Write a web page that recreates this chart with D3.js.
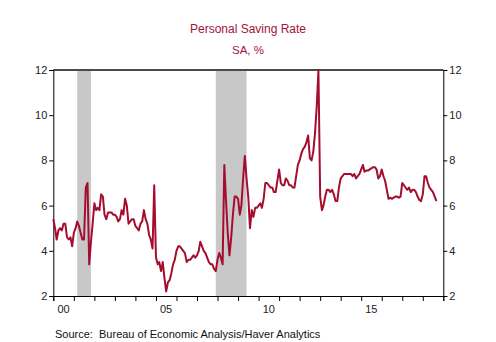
<!DOCTYPE html>
<html>
<head>
<meta charset="utf-8">
<script src="https://cdn.jsdelivr.net/npm/d3@7"></script>
<style>
  body { margin: 0; background: #fff; }
  svg { font-family: "Liberation Sans", Arial, sans-serif; }
  .axis path, .axis line { stroke: #000; }
  .axis text { font-size: 11px; fill: #222; }
</style>
</head>
<body>
<div class="chart"></div>
<script>
// monthly personal saving rate, Jan 2000 onward
var startYear = 2000;
var savingRate = [
  5.4, 5.0, 4.5, 4.9, 5.0, 4.9, 5.2, 5.2, 4.6, 4.5, 4.6, 4.2,   // 2000
  4.8, 5.0, 5.3, 5.1, 4.8, 4.5, 4.5, 6.8, 7.0, 3.4, 4.4, 5.2,   // 2001
  6.1, 5.8, 5.9, 5.8, 6.5, 6.4, 5.6, 5.4, 5.7, 5.7, 5.7, 5.6,   // 2002
  5.6, 5.5, 5.3, 5.4, 5.8, 5.6, 6.3, 6.0, 5.2, 5.3, 5.4, 5.4,   // 2003
  5.1, 5.0, 4.9, 5.2, 5.3, 5.8, 5.4, 5.2, 4.7, 4.5, 4.1, 6.9,   // 2004
  3.7, 3.4, 3.5, 3.1, 3.5, 2.8, 2.2, 2.6, 2.7, 3.0, 3.4, 3.6,   // 2005
  4.0, 4.2, 4.2, 4.1, 4.0, 3.9, 3.5, 3.6, 3.6, 3.7, 3.8, 3.7,   // 2006
  3.8, 4.0, 4.4, 4.2, 4.0, 3.9, 3.7, 3.5, 3.4, 3.4, 3.2, 3.1,   // 2007
  3.6, 3.9, 3.7, 3.4, 7.8, 6.2, 4.8, 3.8, 4.6, 5.6, 6.4, 6.4,   // 2008
  6.3, 5.6, 6.0, 7.2, 8.2, 7.2, 6.4, 5.0, 5.8, 5.5, 5.9, 5.9,   // 2009
  6.0, 6.1, 5.9, 6.3, 7.0, 7.0, 6.9, 6.8, 6.8, 6.6, 6.6, 7.1,   // 2010
  7.6, 7.0, 6.9, 6.9, 7.2, 7.1, 6.9, 6.9, 6.8, 6.8, 7.3, 7.8,   // 2011
  8.0, 8.3, 8.5, 8.6, 8.8, 9.1, 8.1, 8.0, 8.4, 9.2, 10.4, 12.0, // 2012
  6.4, 5.8, 6.0, 6.4, 6.7, 6.7, 6.6, 6.7, 6.5, 6.2, 6.2, 6.8,   // 2013
  7.2, 7.3, 7.4, 7.4, 7.4, 7.4, 7.4, 7.3, 7.4, 7.2, 7.3, 7.4,   // 2014
  7.6, 7.8, 7.5, 7.55, 7.55, 7.6, 7.65, 7.7, 7.7, 7.6, 7.2, 7.3, // 2015
  7.6, 7.3, 7.1, 6.7, 6.3, 6.35, 6.3, 6.35, 6.4, 6.4, 6.35, 6.4, // 2016
  7.0, 6.9, 6.8, 6.7, 6.8, 6.6, 6.7, 6.7, 6.6, 6.4, 6.25, 6.2,  // 2017
  6.5, 7.3, 7.3, 7.0, 6.8, 6.7, 6.6, 6.4, 6.2                   // 2018
];

// recession periods [start, end] as "year-month"
var recessions = [["2001-03", "2001-11"], ["2007-12", "2009-06"]];

var yTicks = [2, 4, 6, 8, 10, 12];
var xTickLabels = ["00", "05", "10", "15"];
var xLabelYears = [2000, 2005, 2010, 2015];

var svgWidth = 496;
var svgHeight = 342;
var margin = { top: 70, right: 52.7, bottom: 46, left: 53.3 };
var width = svgWidth - margin.left - margin.right;
var height = svgHeight - margin.top - margin.bottom;

var lineColor = "#a50d2f";
var titleColor = "#a3123a";

var svg = d3.select(".chart")
  .append("svg")
  .attr("width", svgWidth)
  .attr("height", svgHeight);

var chartGroup = svg.append("g")
  .attr("transform", `translate(${margin.left}, ${margin.top})`);

var parseMonth = d3.timeParse("%Y-%m");

var data = savingRate.map(function(v, i) {
  return { date: new Date(startYear, i, 1), value: v };
});

var xScale = d3.scaleTime()
  .domain([new Date(2000, 0, 1), new Date(2019, 0, 1)])
  .range([0, width]);

var yScale = d3.scaleLinear()
  .domain([2, 12])
  .range([height, 0]);

// recession shading
chartGroup.selectAll(".recession")
  .data(recessions)
  .enter()
  .append("rect")
  .attr("class", "recession")
  .attr("x", d => xScale(parseMonth(d[0])))
  .attr("width", d => xScale(parseMonth(d[1])) - xScale(parseMonth(d[0])))
  .attr("y", 0)
  .attr("height", height)
  .attr("fill", "#c8c8c8");

// top border
chartGroup.append("line")
  .attr("x1", 0)
  .attr("x2", width)
  .attr("y1", 0)
  .attr("y2", 0)
  .attr("stroke", "#4a4a4a")
  .attr("stroke-width", 2);

// axes
var leftAxis = d3.axisLeft(yScale).tickValues(yTicks).tickSize(4).tickPadding(2);
var rightAxis = d3.axisRight(yScale).tickValues(yTicks).tickSize(4).tickPadding(2);
var bottomAxis = d3.axisBottom(xScale)
  .ticks(d3.timeYear.every(1))
  .tickSize(5)
  .tickFormat("");

chartGroup.append("g")
  .attr("class", "axis")
  .call(leftAxis);

chartGroup.append("g")
  .attr("class", "axis")
  .attr("transform", `translate(${width}, 0)`)
  .call(rightAxis);

chartGroup.append("g")
  .attr("class", "axis")
  .attr("transform", `translate(0, ${height})`)
  .call(bottomAxis);

// year labels centred in the year
chartGroup.selectAll(".xlabel")
  .data(xTickLabels)
  .enter()
  .append("text")
  .attr("class", "xlabel")
  .attr("x", (d, i) => xScale(new Date(xLabelYears[i], 6, 1)))
  .attr("y", height + 17)
  .attr("text-anchor", "middle")
  .attr("font-size", "11px")
  .attr("fill", "#222")
  .text(d => d);

// the line
var line = d3.line()
  .x(d => xScale(d.date))
  .y(d => yScale(d.value));

chartGroup.append("path")
  .datum(data)
  .attr("d", line)
  .attr("fill", "none")
  .attr("stroke", lineColor)
  .attr("stroke-width", 2)
  .attr("stroke-linejoin", "round");

// titles
svg.append("text")
  .attr("x", 248)
  .attr("y", 33)
  .attr("text-anchor", "middle")
  .attr("font-size", "12px")
  .attr("fill", titleColor)
  .text("Personal Saving Rate");

svg.append("text")
  .attr("x", 248)
  .attr("y", 54)
  .attr("text-anchor", "middle")
  .attr("font-size", "11.5px")
  .attr("fill", titleColor)
  .text("SA, %");

svg.append("text")
  .attr("x", 55)
  .attr("y", 338)
  .attr("font-size", "11px")
  .attr("fill", "#111")
  .style("white-space", "pre")
  .text("Source:  Bureau of Economic Analysis/Haver Analytics");
</script>
</body>
</html>
